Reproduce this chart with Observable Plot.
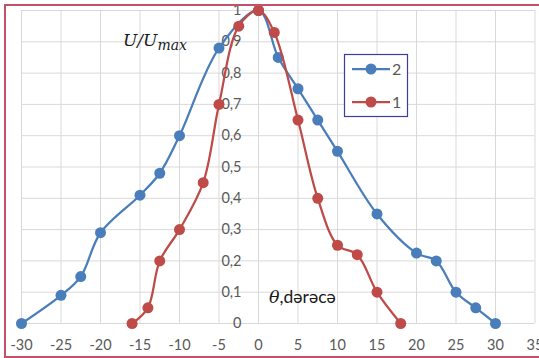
<!DOCTYPE html>
<html>
<head>
<meta charset="utf-8">
<script src="https://cdn.jsdelivr.net/npm/d3@7"></script>
<script src="https://cdn.jsdelivr.net/npm/@observablehq/plot@0.6"></script>
<style>
  html, body { margin: 0; padding: 0; background: #fff; overflow: hidden; width: 539px; height: 358px; }
  #chart { position: absolute; left: 0; top: 0; }
  #frame { position: absolute; left: 4px; top: 4px; width: 600px; height: 350px; border: 2px solid #c5506a; pointer-events: none; box-sizing: content-box; }
</style>
</head>
<body>
<div id="chart"></div>
<div id="frame"></div>
<script>
// ---- data ----
const xTicks = [-30, -25, -20, -15, -10, -5, 0, 5, 10, 15, 20, 25, 30, 35];
const xTickLabels = ["-30", "-25", "-20", "-15", "-10", "-5", "0", "5", "10", "15", "20", "25", "30", "35"];
const yTicks = [0, 0.1, 0.2, 0.3, 0.4, 0.5, 0.6, 0.7, 0.8, 0.9, 1];
const yTickLabels = ["0", "0,1", "0,2", "0,3", "0,4", "0,5", "0,6", "0,7", "0,8", "0,9", "1"];

const series2X = [-30, -25, -22.5, -20, -15, -12.5, -10, -5, 0, 2.5, 5, 7.5, 10, 15, 20, 22.5, 25, 27.5, 30];
const series2Y = [0, 0.09, 0.15, 0.29, 0.41, 0.48, 0.6, 0.88, 1, 0.85, 0.75, 0.65, 0.55, 0.35, 0.225, 0.2, 0.1, 0.05, 0];
const series1X = [-16, -14, -12.5, -10, -7, -5, -2.5, 0, 2, 5, 7.5, 10, 12.5, 15, 18];
const series1Y = [0, 0.05, 0.2, 0.3, 0.45, 0.7, 0.95, 1, 0.93, 0.65, 0.4, 0.25, 0.22, 0.1, 0];
const seriesNames = ["2", "1"];
const seriesColors = ["#4a7ebb", "#be4b48"];

const s2 = series2X.map((x, i) => ({x, y: series2Y[i]}));
const s1 = series1X.map((x, i) => ({x, y: series1Y[i]}));

const labelFont = "Lato, 'Open Sans', sans-serif";
const gray = "#595959";

const svg = Plot.plot({
  width: 539,
  height: 358,
  marginLeft: 21,
  marginRight: 4.5,
  marginTop: 10,
  marginBottom: 35,
  style: {background: "transparent", fontFamily: labelFont, overflow: "visible"},
  x: {domain: [-30, 35], axis: null},
  y: {domain: [0, 1], axis: null},
  marks: [
    Plot.gridX(xTicks, {stroke: "#d9d9d9", strokeOpacity: 1, strokeWidth: 1}),
    Plot.gridY(yTicks, {stroke: "#d9d9d9", strokeOpacity: 1, strokeWidth: 1}),
    Plot.text(yTicks, {x: () => 0, y: d => d, text: (d, i) => yTickLabels[i], dx: -17, textAnchor: "end", fill: gray, fontSize: 14.5}),
    Plot.text(xTicks, {x: d => d, text: (d, i) => xTickLabels[i], frameAnchor: "bottom", dy: 26, fill: gray, fontSize: 14.5}),
    Plot.line(s2, {x: "x", y: "y", stroke: seriesColors[0], strokeWidth: 2.25, curve: "catmull-rom"}),
    Plot.dot(s2, {x: "x", y: "y", r: 5.5, fill: seriesColors[0], stroke: "none"}),
    Plot.line(s1, {x: "x", y: "y", stroke: seriesColors[1], strokeWidth: 2.25, curve: "catmull-rom"}),
    Plot.dot(s1, {x: "x", y: "y", r: 5.5, fill: seriesColors[1], stroke: "none"})
  ]
});
document.getElementById("chart").appendChild(svg);

const g = d3.select(svg).append("g").attr("text-anchor", "start");
// axis titles
const t1 = g.append("text").attr("x", 123).attr("y", 46)
  .attr("font-family", "'DejaVu Serif', serif").attr("font-style", "italic")
  .attr("font-size", 17).attr("fill", "#1a1a1a");
t1.append("tspan").text("U/U");
t1.append("tspan").attr("dy", 4).attr("font-size", 14).text("max");

const t2 = g.append("text").attr("x", 269).attr("y", 303)
  .attr("font-family", labelFont).attr("font-size", 17.5).attr("fill", "#1a1a1a");
t2.append("tspan").attr("font-family", "'DejaVu Serif', serif").attr("font-style", "italic").text("θ");
t2.append("tspan").text(",dərəcə");

// legend
const lg = g.append("g");
lg.append("rect").attr("x", 344.5).attr("y", 54.5).attr("width", 63).attr("height", 62)
  .attr("fill", "#fff").attr("stroke", "#3d3d9e").attr("stroke-width", 1.2);
seriesNames.forEach((name, i) => {
  const yy = 69 + i * 33;
  lg.append("line").attr("x1", 352).attr("x2", 390).attr("y1", yy).attr("y2", yy)
    .attr("stroke", seriesColors[i]).attr("stroke-width", 2.25);
  lg.append("circle").attr("cx", 371).attr("cy", yy).attr("r", 5.5).attr("fill", seriesColors[i]);
  lg.append("text").attr("x", 392).attr("y", yy).attr("dy", "0.35em")
    .attr("font-family", labelFont).attr("font-size", 16).attr("fill", gray).text(name);
});
</script>
</body>
</html>
